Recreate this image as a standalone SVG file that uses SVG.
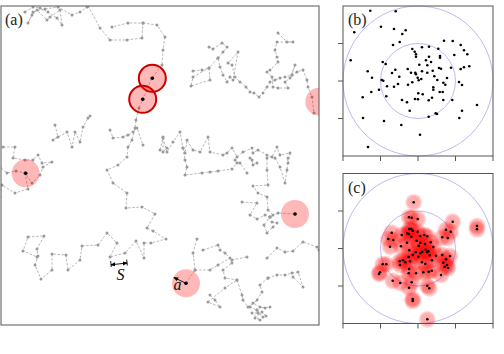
<svg xmlns="http://www.w3.org/2000/svg" xmlns:xlink="http://www.w3.org/1999/xlink" width="504" height="354" viewBox="0 0 504 354">
<style>
.frame{fill:none;stroke:#555;stroke-width:1}
.w{fill:none;stroke:#a6a6a6;stroke-width:0.8;stroke-dasharray:2.5 1.6;marker-start:url(#d);marker-mid:url(#d);marker-end:url(#d)}
.pk{fill:#ff0000;fill-opacity:0.28}
.pko{fill:#ff0000;fill-opacity:0.28;stroke:#c80000;stroke-width:2}
.ring{fill:none;stroke:#a8aaf0;stroke-width:0.8}
.tick{stroke:#555;stroke-width:1}
.lbl{font-family:"Liberation Serif","DejaVu Serif",serif;font-size:16px;fill:#222}
.it{font-family:"Liberation Serif","DejaVu Serif",serif;font-style:italic;font-size:16px;fill:#111}
</style>
<defs>
<marker id="d" viewBox="0 0 4 4" refX="2" refY="2" markerWidth="4" markerHeight="4" markerUnits="userSpaceOnUse"><circle cx="2" cy="2" r="1.5" fill="#9a9a9a"/></marker>
<marker id="ah" viewBox="0 0 6 6" refX="5" refY="3" markerWidth="5" markerHeight="5" orient="auto-start-reverse" markerUnits="userSpaceOnUse"><path d="M0,0.5 L6,3 L0,5.5 Z" fill="#000"/></marker>
<radialGradient id="rg"><stop offset="0" stop-color="#ff0000" stop-opacity="0.36"/><stop offset="0.7" stop-color="#ff0000" stop-opacity="0.3"/><stop offset="1" stop-color="#ff0000" stop-opacity="0.08"/></radialGradient>
<circle id="rc" r="8.6" fill="url(#rg)"/>
<circle id="k" r="1.3" fill="#000"/>
<clipPath id="ca"><rect x="1" y="6" width="318" height="319"/></clipPath>
</defs>

<g id="panel-a">
<g id="walks" clip-path="url(#ca)">
<polyline class="w" points="25,12 33,7 40,8 48,12 57,18 62,25 60,10 50,17 47,20 37,10 32,15 28,23 33,12 45,9 58,7 72,15 80,12 87,7"/>
<polyline class="w" points="88,6 100,28 110,40 127,40 142,38 143,23 128,23 112,27"/>
<polyline class="w" points="143,23 157,25 165,37 163,50 162,65 152,78 143,99 139,108 136,120 135,128 132,140 128,147 127,157 118,165 107,170 113,183 127,193 126,208 142,207 155,214 147,228 153,231 166,239 151,243 144,243 144,258 136,241 125,253 110,257 117,243 107,233 98,245 82,246 80,260 68,270 66,255 52,254 52,270 41,279 35,265 38,256 37,249 44,236 28,237 23,251 37,257"/>
<polyline class="w" points="3,147 15,147 13,158 25,160 33,160 38,155 42,163 52,162 43,167 40,175 32,183 25,173 16,171 7,173 0,167"/>
<polyline class="w" points="25,173 28,189 15,193 2,185 0,197"/>
<polyline class="w" points="55,125 58,137 53,140 67,132 72,147 75,132 80,142 83,127 88,118 90,116"/>
<polyline class="w" points="110,130 113,138 123,137 128,135 133,132 137,128 143,145"/>
<polyline class="w" points="163,137 163,152 167,148"/>
<polyline class="w" points="160,150 163,138 167,152 173,142 180,132 183,148 185,153 187,140 193,150 200,152 208,137 210,152 223,155 227,153 232,148 237,157 243,152 252,148 253,153 258,150 267,155 272,157 277,147 280,155 290,153 288,163"/>
<polyline class="w" points="183,148 185,160 187,167 185,175 202,173 210,172 218,171 232,169 237,163 235,160 240,163 247,173"/>
<polyline class="w" points="250,158 252,160 253,165 257,163"/>
<polyline class="w" points="267,158 267,170 268,185 253,186 258,193 267,197 268,210 273,215 270,217 278,213 295,214"/>
<polyline class="w" points="275,158 280,167 285,183 287,170 288,158"/>
<polyline class="w" points="242,202 257,203 250,215 257,219 265,215 270,217"/>
<polyline class="w" points="272,222 277,223 273,227 267,233 264,225 270,217"/>
<polyline class="w" points="197,239 193,253 195,270 186,283"/>
<polyline class="w" points="203,250 218,245 220,250 225,253 232,260 247,257"/>
<polyline class="w" points="195,270 210,270 218,265 230,258 232,263 223,270 225,278 237,280"/>
<polyline class="w" points="210,295 215,300 220,307 208,302 225,288 237,280 242,295 243,300 248,307 253,303 260,307 265,308 270,307"/>
<polyline class="w" points="257,310 263,317 258,313 252,313 260,320 255,318 262,312 266,316"/>
<polyline class="w" points="267,258 277,248 285,252 293,251 303,242 317,247 319,250"/>
<polyline class="w" points="268,278 277,275 285,275 292,273 298,272 303,287 293,277"/>
<polyline class="w" points="268,278 260,285 262,292 257,300 250,307 257,310"/>
<polyline class="w" points="209,47 213,49 222,43 227,47 223,52 218,58 220,67 223,75 227,82 230,77 233,80 238,52 228,63 232,65 235,77 240,82 246,87 250,92 254,93 259,97 263,93 267,87 270,82 275,80 280,78 285,77 292,75 297,72 303,70 307,80 308,87 312,97 314,113"/>
<polyline class="w" points="193,71 202,70 209,68 210,80 191,86 193,77 209,68 218,58"/>
<polyline class="w" points="278,33 287,42 293,42 277,42 275,50 277,57 278,62 270,70 267,72 272,77 273,87 278,88 288,88 285,82 290,78 295,65 292,75"/>
</g>
<g id="sites" clip-path="url(#ca)">
<circle class="pk" cx="25.7" cy="173.3" r="14"/>
<circle class="pk" cx="295" cy="214" r="14"/>
<circle class="pk" cx="186" cy="283.3" r="14"/>
<circle class="pk" cx="319.3" cy="101.7" r="14"/>
<circle class="pko" cx="152.3" cy="78.3" r="13.5"/>
<circle class="pko" cx="142.7" cy="99.3" r="13.5"/>
<circle cx="25.7" cy="173.3" r="1.8"/>
<circle cx="295" cy="214" r="1.8"/>
<circle cx="186" cy="283.3" r="1.8"/>
<circle cx="152.3" cy="78.3" r="1.8"/>
<circle cx="142.7" cy="99.3" r="1.8"/>
</g>
<g id="scale-S">
<line x1="111" y1="264.8" x2="127" y2="263" stroke="#000" stroke-width="0.9" marker-start="url(#ah)" marker-end="url(#ah)"/>
<line x1="110.7" y1="261" x2="111.3" y2="267" stroke="#000" stroke-width="0.9"/>
<line x1="126.7" y1="259.5" x2="127.3" y2="265.5" stroke="#000" stroke-width="0.9"/>
<text class="it" x="120.5" y="280" text-anchor="middle">S</text>
</g>
<g id="scale-a">
<line x1="186" y1="283.3" x2="174" y2="277.5" stroke="#000" stroke-width="0.9" marker-end="url(#ah)"/>
<text class="it" x="177.5" y="289.5" text-anchor="middle">a</text>
</g>
<rect class="frame" x="1" y="6" width="318" height="319"/>
<text class="lbl" x="5" y="24.5">(a)</text>
</g>

<g id="panel-b">
<circle class="ring" cx="418" cy="81" r="75"/>
<circle class="ring" cx="418" cy="81" r="37.5"/>
<g id="pts-b">
<use href="#k" x="370.3" y="10.7"/><use href="#k" x="395.7" y="11.3"/><use href="#k" x="354.3" y="32.3"/><use href="#k" x="381" y="26.7"/><use href="#k" x="394" y="29"/><use href="#k" x="405.7" y="30.3"/><use href="#k" x="402.3" y="34"/><use href="#k" x="399.7" y="42"/><use href="#k" x="393" y="45"/><use href="#k" x="350.7" y="60.3"/>
<use href="#k" x="444" y="40.7"/><use href="#k" x="452.7" y="41"/><use href="#k" x="460.7" y="45"/><use href="#k" x="464" y="50.3"/><use href="#k" x="467.3" y="54.3"/><use href="#k" x="454.3" y="55"/><use href="#k" x="422" y="47.3"/><use href="#k" x="429" y="46.7"/><use href="#k" x="438.3" y="48.7"/><use href="#k" x="412.3" y="49"/>
<use href="#k" x="414.7" y="51.7"/><use href="#k" x="416" y="54.3"/><use href="#k" x="416" y="56.7"/><use href="#k" x="429" y="56.7"/><use href="#k" x="440" y="56"/><use href="#k" x="440" y="57.7"/><use href="#k" x="426" y="60.3"/><use href="#k" x="431" y="62"/><use href="#k" x="427.3" y="65.3"/><use href="#k" x="419.3" y="64.7"/>
<use href="#k" x="382.7" y="62"/><use href="#k" x="385.7" y="64"/><use href="#k" x="367.7" y="71.3"/><use href="#k" x="392" y="73"/><use href="#k" x="395.3" y="69.7"/><use href="#k" x="407.7" y="69"/><use href="#k" x="411" y="72.7"/><use href="#k" x="415.3" y="72.7"/><use href="#k" x="416" y="74.3"/><use href="#k" x="422" y="71.3"/>
<use href="#k" x="427.3" y="72.7"/><use href="#k" x="432.7" y="70.7"/><use href="#k" x="439" y="68"/><use href="#k" x="441" y="68.7"/><use href="#k" x="451" y="67.7"/><use href="#k" x="460.7" y="69"/><use href="#k" x="464" y="67.3"/><use href="#k" x="469.3" y="66.3"/><use href="#k" x="399.3" y="76.7"/><use href="#k" x="372" y="77.7"/>
<use href="#k" x="381.7" y="80"/><use href="#k" x="383.3" y="80.7"/><use href="#k" x="417.7" y="77.7"/><use href="#k" x="421.3" y="79"/><use href="#k" x="418.7" y="80.3"/><use href="#k" x="412.3" y="82.3"/><use href="#k" x="398" y="84"/><use href="#k" x="408" y="84.7"/><use href="#k" x="434.3" y="76.3"/><use href="#k" x="437.3" y="80"/>
<use href="#k" x="447" y="78"/><use href="#k" x="443.3" y="82.7"/><use href="#k" x="445.3" y="84.7"/><use href="#k" x="459" y="82"/><use href="#k" x="462" y="85"/><use href="#k" x="387" y="86.3"/><use href="#k" x="394" y="86.7"/><use href="#k" x="379" y="89.7"/><use href="#k" x="371.3" y="92"/><use href="#k" x="433.3" y="87.3"/>
<use href="#k" x="433.3" y="89.7"/><use href="#k" x="439.7" y="92"/><use href="#k" x="442.7" y="92"/><use href="#k" x="418.3" y="93.3"/><use href="#k" x="422.7" y="94.3"/><use href="#k" x="386.3" y="96.3"/><use href="#k" x="362.7" y="97.3"/><use href="#k" x="402" y="100"/><use href="#k" x="407" y="102.3"/><use href="#k" x="415" y="99"/>
<use href="#k" x="418" y="99.3"/><use href="#k" x="428.7" y="100.3"/><use href="#k" x="432" y="97.7"/><use href="#k" x="443.3" y="100"/><use href="#k" x="452.3" y="100"/><use href="#k" x="477" y="105"/><use href="#k" x="409.7" y="110.7"/><use href="#k" x="435.7" y="113.3"/><use href="#k" x="437" y="114"/><use href="#k" x="428.7" y="116.7"/>
<use href="#k" x="462" y="110.7"/><use href="#k" x="459.3" y="118"/><use href="#k" x="363" y="118"/><use href="#k" x="384" y="121"/><use href="#k" x="401.3" y="125"/><use href="#k" x="420" y="134.7"/><use href="#k" x="368" y="147"/>
</g>
<rect class="frame" x="343" y="6" width="150" height="150"/>
<path class="tick" d="M338,43.5H343M338,81H343M338,118.5H343M343,156V161M380.5,156V161M418,156V161M455.5,156V161M493,156V161"/>
<text class="lbl" x="348" y="24.5">(b)</text>
</g>

<g id="panel-c">
<circle class="ring" cx="418" cy="248.5" r="75"/>
<circle class="ring" cx="418" cy="248.5" r="37.5"/>
<g id="disks-c">
<use href="#rc" x="413.7" y="202.3"/><use href="#rc" x="409" y="217.3"/><use href="#rc" x="411.7" y="217.7"/><use href="#rc" x="417.7" y="219"/><use href="#rc" x="452.7" y="221.7"/><use href="#rc" x="477" y="226"/><use href="#rc" x="477" y="229.3"/><use href="#rc" x="391.7" y="232.7"/><use href="#rc" x="388.3" y="239"/><use href="#rc" x="393.3" y="240"/>
<use href="#rc" x="390" y="246.7"/><use href="#rc" x="401.7" y="235"/><use href="#rc" x="407.3" y="233.3"/><use href="#rc" x="409.3" y="229"/><use href="#rc" x="411.3" y="229"/><use href="#rc" x="408.7" y="234"/><use href="#rc" x="412.7" y="230.7"/><use href="#rc" x="411.3" y="236.7"/><use href="#rc" x="417.7" y="231.7"/><use href="#rc" x="420" y="236"/>
<use href="#rc" x="424.3" y="235"/><use href="#rc" x="427.3" y="236.3"/><use href="#rc" x="407" y="242.7"/><use href="#rc" x="401" y="246.3"/><use href="#rc" x="416.7" y="240.7"/><use href="#rc" x="418.7" y="245.7"/><use href="#rc" x="420.3" y="242.7"/><use href="#rc" x="425" y="244"/><use href="#rc" x="430.7" y="242.3"/><use href="#rc" x="433.3" y="247"/>
<use href="#rc" x="425.7" y="249.7"/><use href="#rc" x="427" y="252.3"/><use href="#rc" x="422.3" y="251.7"/><use href="#rc" x="420.3" y="253.3"/><use href="#rc" x="415.7" y="252.3"/><use href="#rc" x="418.3" y="256.7"/><use href="#rc" x="412.7" y="255"/><use href="#rc" x="429.7" y="255.3"/><use href="#rc" x="428.3" y="251.3"/><use href="#rc" x="409.3" y="250.3"/>
<use href="#rc" x="408.7" y="257"/><use href="#rc" x="405.3" y="262.3"/><use href="#rc" x="403" y="260.3"/><use href="#rc" x="399.7" y="261.3"/><use href="#rc" x="400" y="265"/><use href="#rc" x="410" y="261.3"/><use href="#rc" x="422" y="262.3"/><use href="#rc" x="425.3" y="263.7"/><use href="#rc" x="432" y="260.3"/><use href="#rc" x="436" y="255.7"/>
<use href="#rc" x="442.3" y="237.3"/><use href="#rc" x="447.7" y="238"/><use href="#rc" x="450.7" y="231.7"/><use href="#rc" x="446" y="229.7"/><use href="#rc" x="442.3" y="255"/><use href="#rc" x="446" y="259.3"/><use href="#rc" x="443.3" y="262.7"/><use href="#rc" x="447" y="265"/><use href="#rc" x="448" y="268"/><use href="#rc" x="444.7" y="266.7"/>
<use href="#rc" x="450" y="256"/><use href="#rc" x="441" y="275"/><use href="#rc" x="409" y="269"/><use href="#rc" x="408.7" y="273.3"/><use href="#rc" x="416" y="273.3"/><use href="#rc" x="423.3" y="272.3"/><use href="#rc" x="428.7" y="271.7"/><use href="#rc" x="431.7" y="270.7"/><use href="#rc" x="427.3" y="285.7"/><use href="#rc" x="429.3" y="288.3"/>
<use href="#rc" x="409" y="287.7"/><use href="#rc" x="411.7" y="282.3"/><use href="#rc" x="392.7" y="280.7"/><use href="#rc" x="400.3" y="283"/><use href="#rc" x="382.7" y="264.3"/><use href="#rc" x="386.3" y="264.3"/><use href="#rc" x="380" y="272.3"/><use href="#rc" x="379" y="274"/><use href="#rc" x="412.7" y="299"/><use href="#rc" x="412.7" y="301"/>
<use href="#rc" x="427.3" y="319.3"/>
</g>
<g id="pts-c">
<use href="#k" x="413.7" y="202.3"/><use href="#k" x="409" y="217.3"/><use href="#k" x="411.7" y="217.7"/><use href="#k" x="417.7" y="219"/><use href="#k" x="452.7" y="221.7"/><use href="#k" x="477" y="226"/><use href="#k" x="477" y="229.3"/><use href="#k" x="391.7" y="232.7"/><use href="#k" x="388.3" y="239"/><use href="#k" x="393.3" y="240"/>
<use href="#k" x="390" y="246.7"/><use href="#k" x="401.7" y="235"/><use href="#k" x="407.3" y="233.3"/><use href="#k" x="409.3" y="229"/><use href="#k" x="411.3" y="229"/><use href="#k" x="408.7" y="234"/><use href="#k" x="412.7" y="230.7"/><use href="#k" x="411.3" y="236.7"/><use href="#k" x="417.7" y="231.7"/><use href="#k" x="420" y="236"/>
<use href="#k" x="424.3" y="235"/><use href="#k" x="427.3" y="236.3"/><use href="#k" x="407" y="242.7"/><use href="#k" x="401" y="246.3"/><use href="#k" x="416.7" y="240.7"/><use href="#k" x="418.7" y="245.7"/><use href="#k" x="420.3" y="242.7"/><use href="#k" x="425" y="244"/><use href="#k" x="430.7" y="242.3"/><use href="#k" x="433.3" y="247"/>
<use href="#k" x="425.7" y="249.7"/><use href="#k" x="427" y="252.3"/><use href="#k" x="422.3" y="251.7"/><use href="#k" x="420.3" y="253.3"/><use href="#k" x="415.7" y="252.3"/><use href="#k" x="418.3" y="256.7"/><use href="#k" x="412.7" y="255"/><use href="#k" x="429.7" y="255.3"/><use href="#k" x="428.3" y="251.3"/><use href="#k" x="409.3" y="250.3"/>
<use href="#k" x="408.7" y="257"/><use href="#k" x="405.3" y="262.3"/><use href="#k" x="403" y="260.3"/><use href="#k" x="399.7" y="261.3"/><use href="#k" x="400" y="265"/><use href="#k" x="410" y="261.3"/><use href="#k" x="422" y="262.3"/><use href="#k" x="425.3" y="263.7"/><use href="#k" x="432" y="260.3"/><use href="#k" x="436" y="255.7"/>
<use href="#k" x="442.3" y="237.3"/><use href="#k" x="447.7" y="238"/><use href="#k" x="450.7" y="231.7"/><use href="#k" x="446" y="229.7"/><use href="#k" x="442.3" y="255"/><use href="#k" x="446" y="259.3"/><use href="#k" x="443.3" y="262.7"/><use href="#k" x="447" y="265"/><use href="#k" x="448" y="268"/><use href="#k" x="444.7" y="266.7"/>
<use href="#k" x="450" y="256"/><use href="#k" x="441" y="275"/><use href="#k" x="409" y="269"/><use href="#k" x="408.7" y="273.3"/><use href="#k" x="416" y="273.3"/><use href="#k" x="423.3" y="272.3"/><use href="#k" x="428.7" y="271.7"/><use href="#k" x="431.7" y="270.7"/><use href="#k" x="427.3" y="285.7"/><use href="#k" x="429.3" y="288.3"/>
<use href="#k" x="409" y="287.7"/><use href="#k" x="411.7" y="282.3"/><use href="#k" x="392.7" y="280.7"/><use href="#k" x="400.3" y="283"/><use href="#k" x="382.7" y="264.3"/><use href="#k" x="386.3" y="264.3"/><use href="#k" x="380" y="272.3"/><use href="#k" x="379" y="274"/><use href="#k" x="412.7" y="299"/><use href="#k" x="412.7" y="301"/>
<use href="#k" x="427.3" y="319.3"/>
</g>
<rect class="frame" x="343" y="173.5" width="150" height="150"/>
<path class="tick" d="M338,211H343M338,248.5H343M338,286H343M343,323.5V328.5M380.5,323.5V328.5M418,323.5V328.5M455.5,323.5V328.5M493,323.5V328.5"/>
<text class="lbl" x="348" y="193">(c)</text>
</g>
</svg>
